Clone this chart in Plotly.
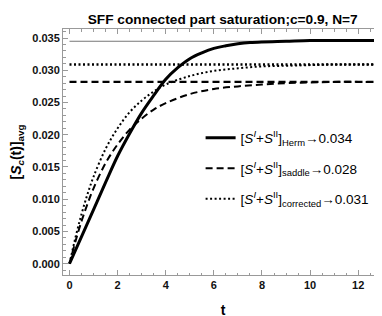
import plotly.graph_objects as go

t_herm = [0, 0.5, 1, 1.5, 2, 2.5, 3, 3.5, 4, 4.5, 5, 5.5, 6, 6.5, 7, 7.5, 8, 9, 10, 11, 12, 13]
s_herm = [0, 0.0042, 0.0084, 0.0126, 0.0167, 0.0202, 0.0234, 0.0261, 0.0286, 0.0304, 0.0318,
          0.0327, 0.0334, 0.0338, 0.0341, 0.0343, 0.0344, 0.0345, 0.0346, 0.0346, 0.0346, 0.0346]

t_sad = [0, 0.25, 0.5, 0.75, 1, 1.5, 2, 2.5, 3, 3.5, 4, 5, 6, 7, 8, 9, 10, 11, 12, 13]
s_sad = [0, 0.0035, 0.0066, 0.0093, 0.0117, 0.0156, 0.0185, 0.0208, 0.0225, 0.0239, 0.0249,
         0.0263, 0.0271, 0.0275, 0.0278, 0.0280, 0.0281, 0.0282, 0.0282, 0.0282]

t_cor = [0, 0.25, 0.5, 0.75, 1, 1.5, 2, 2.5, 3, 3.5, 4, 5, 6, 7, 8, 9, 10, 11, 12, 13]
s_cor = [0, 0.0041, 0.0077, 0.0108, 0.0135, 0.0178, 0.0210, 0.0235, 0.0253, 0.0267, 0.0278,
         0.0291, 0.0299, 0.0303, 0.0306, 0.0307, 0.0308, 0.0309, 0.0309, 0.0309]

lim_herm = 0.0345
lim_sad = 0.0282
lim_cor = 0.0309
t_span = [0, 13]

names = ["[<i>S</i><sup><i>I</i></sup>+<i>S</i><sup>II</sup>]<sub>Herm</sub>\u21920.034",
         "[<i>S</i><sup><i>I</i></sup>+<i>S</i><sup>II</sup>]<sub>saddle</sub>\u21920.028",
         "[<i>S</i><sup><i>I</i></sup>+<i>S</i><sup>II</sup>]<sub>corrected</sub>\u21920.031"]

FONT = "Liberation Sans, Arial"

fig = go.Figure()
# asymptote lines
fig.add_trace(go.Scatter(x=t_span, y=[lim_herm]*2, mode="lines", showlegend=False,
                         line=dict(color="#777777", width=1)))
fig.add_trace(go.Scatter(x=t_span, y=[lim_cor]*2, mode="lines", showlegend=False,
                         line=dict(color="black", width=2.4, dash="2px,2.5px")))
fig.add_trace(go.Scatter(x=t_span, y=[lim_sad]*2, mode="lines", showlegend=False,
                         line=dict(color="black", width=2.4, dash="7px,4px")))
# curves
fig.add_trace(go.Scatter(x=t_herm, y=s_herm, mode="lines", name=names[0], legendgroup="a",
                         line=dict(color="black", width=3, shape="spline")))
fig.add_trace(go.Scatter(x=t_sad, y=s_sad, mode="lines", name=names[1], legendgroup="b",
                         line=dict(color="black", width=2, dash="7px,4px", shape="spline")))
fig.add_trace(go.Scatter(x=t_cor, y=s_cor, mode="lines", name=names[2], legendgroup="c",
                         line=dict(color="black", width=2, dash="2px,2.5px", shape="spline")))

axis_common = dict(showline=True, linecolor="#999999", linewidth=1, mirror="allticks",
                   ticks="inside", ticklen=5, tickcolor="#999999", showgrid=False, zeroline=False,
                   tickfont=dict(family=FONT, size=11, color="#111111", weight="bold"))

fig.update_xaxes(range=[-0.27, 13.03], dtick=2, tick0=0,
                 minor=dict(dtick=0.5, ticks="inside", ticklen=2.5, tickcolor="#999999"),
                 title=dict(text="<b>t</b>", font=dict(family=FONT, size=14, color="black"),
                            standoff=14),
                 **axis_common)
fig.update_yaxes(range=[-0.00175, 0.0364], dtick=0.005, tick0=0, tickformat=".3f",
                 minor=dict(dtick=0.001, ticks="inside", ticklen=2.5, tickcolor="#999999"),
                 title=dict(text="<b>[<i>S</i><sub><i>c</i></sub>(t)]<sub>avg</sub></b>",
                            font=dict(family=FONT, size=14, color="black"), standoff=8),
                 **axis_common)

fig.update_layout(
    width=382, height=316,
    margin=dict(l=53, r=6, t=21, b=49),
    plot_bgcolor="white", paper_bgcolor="white",
    title=dict(text="<b>SFF connected part saturation;c=0.9, N=7</b>", x=0.562, xanchor="center",
               y=0.965, yanchor="middle",
               font=dict(family=FONT, size=13.7, color="black")),
    legend=dict(x=0.43, y=0.62, xanchor="left", yanchor="top", bgcolor="rgba(0,0,0,0)",
                font=dict(family=FONT, size=13.5, color="black"),
                tracegroupgap=10),
)

fig.write_html("out.html")
